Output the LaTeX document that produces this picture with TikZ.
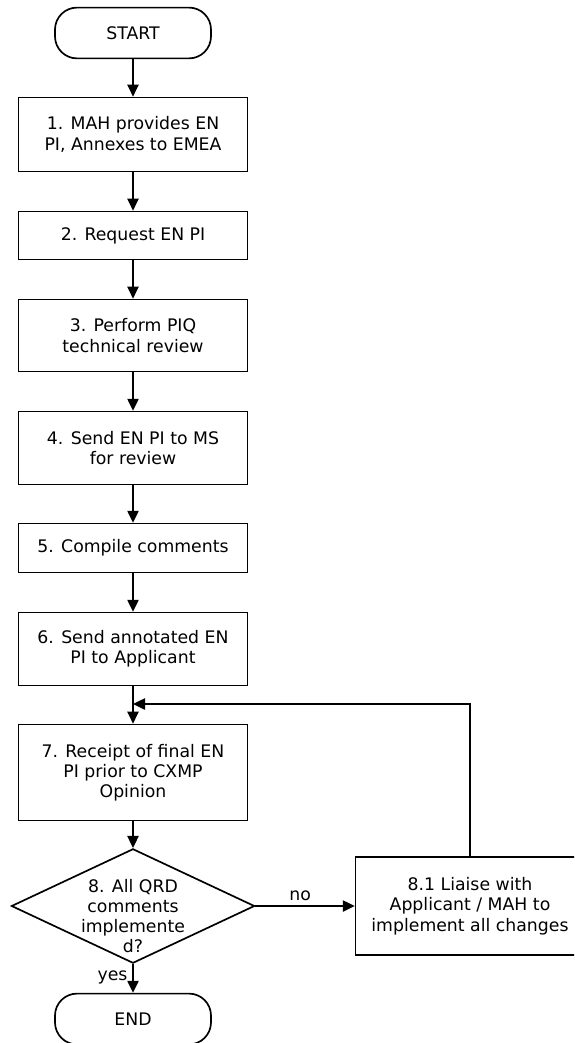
\documentclass[tikz,border=0pt]{standalone}
\usepackage{fontspec}
\setmainfont{DejaVu Sans}
\usetikzlibrary{shapes.geometric,arrows.meta}

\tikzset{
    procbox/.style={draw, line width=1.2pt, minimum width=5.72cm, align=center,
        font=\fontsize{12.3}{14.4}\selectfont},
    termbox/.style={draw, line width=1.2pt, rounded corners=0.55cm,
        minimum width=3.9cm, minimum height=1.27cm,
        font=\fontsize{12.3}{14.4}\selectfont},
    decbox/.style={draw, diamond, line width=1.2pt, aspect=2.1,
        minimum width=6.08cm, minimum height=2.86cm, inner sep=0pt},
    flowarrow/.style={line width=1.3pt, -{Triangle[width=0.28cm,length=0.3cm]}},
    lbl/.style={font=\fontsize{12.3}{14.4}\selectfont}
}

\begin{document}
\begin{tikzpicture}
            \useasboundingbox (0,0) rectangle (14.35,-26.075);
            \clip (0,0) rectangle (14.35,-26.075);
            \node [termbox] (start) at (3.325,-0.825) {START};
            \node [procbox, minimum height=1.85cm] (s1) at (3.325,-3.3625)
                {1. MAH provides EN\\PI, Annexes to EMEA};
            \node [procbox, minimum height=1.2cm] (s2) at (3.325,-5.8875)
                {2. Request EN PI};
            \node [procbox, minimum height=1.8cm] (s3) at (3.325,-8.3875)
                {3. Perform PIQ\\technical review};
            \node [procbox, minimum height=1.82cm] (s4) at (3.325,-11.2)
                {4. Send EN PI to MS\\for review};
            \node [procbox, minimum height=1.22cm] (s5) at (3.325,-13.7)
                {5. Compile comments};
            \node [procbox, minimum height=1.82cm] (s6) at (3.325,-16.225)
                {6. Send annotated EN\\PI to Applicant};
            \node [procbox, minimum height=2.4cm] (s7) at (3.325,-19.3125)
                {7. Receipt of final EN\\PI prior to CXMP\\Opinion};
            \node [decbox] (dec) at (3.325,-22.65) {};
            \node [lbl, align=center] (dectext) at (3.325,-22.9)
                {8. All QRD\\comments\\implemente\\d?};
            \node [procbox, minimum height=2.45cm] (fix) at (11.75,-22.65)
                {8.1 Liaise with\\Applicant / MAH to\\implement all changes};
            \node [termbox] (end) at (3.325,-25.475) {END};
            \coordinate (join) at (3.325,-17.6);

            % main flow
            \draw [flowarrow] (start) -- (s1);
            \draw [flowarrow] (s1) -- (s2);
            \draw [flowarrow] (s2) -- (s3);
            \draw [flowarrow] (s3) -- (s4);
            \draw [flowarrow] (s4) -- (s5);
            \draw [flowarrow] (s5) -- (s6);
            \draw [flowarrow] (s6) -- (s7);
            \draw [flowarrow] (s7) -- (dec);
            \draw [flowarrow] (dec.south) -- (end) node[lbl, pos=0.45,
                anchor=east]{yes};
            \draw [flowarrow] (dec.east) -- (fix.west) node[lbl, pos=0.45,
                anchor=south]{no};
            % loop back
            \draw [flowarrow] (fix.north) |- (join);
        \end{tikzpicture}
\end{document}
